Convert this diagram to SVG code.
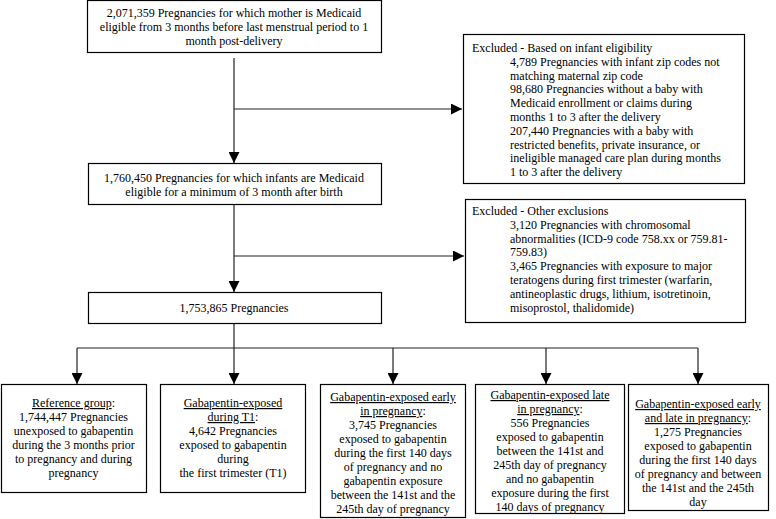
<svg xmlns="http://www.w3.org/2000/svg" width="776" height="519" viewBox="0 0 776 519" font-family="Liberation Serif, Tinos, DejaVu Serif, Times New Roman, serif" font-size="12">
<defs>
<style>
.box{fill:#fff;stroke:#000;stroke-width:1.2}
text{fill:#000}
.c{text-anchor:middle}
.u{text-decoration:underline}
.ln{stroke:#222;stroke-width:1.2;fill:none}
</style>
<marker id="ah" markerUnits="userSpaceOnUse" markerWidth="11" markerHeight="11" refX="11" refY="5.5" orient="auto" viewBox="0 0 11 11">
<path d="M0,0 L11,5.5 L0,11 z" fill="#000"/>
</marker>
</defs>
<rect width="776" height="519" fill="#fff"/>

<g id="connectors">
<line class="ln" x1="234" y1="58" x2="234" y2="163" marker-end="url(#ah)"/>
<line class="ln" x1="234" y1="109" x2="462" y2="109" marker-end="url(#ah)"/>
<line class="ln" x1="234" y1="204" x2="234" y2="292" marker-end="url(#ah)"/>
<line class="ln" x1="234" y1="256" x2="464" y2="256" marker-end="url(#ah)"/>
<line class="ln" x1="234" y1="323" x2="234" y2="348"/>
<line class="ln" x1="77" y1="348" x2="698" y2="348"/>
<line class="ln" x1="77" y1="348" x2="77" y2="384" marker-end="url(#ah)"/>
<line class="ln" x1="234" y1="348" x2="234" y2="384" marker-end="url(#ah)"/>
<line class="ln" x1="393" y1="348" x2="393" y2="384" marker-end="url(#ah)"/>
<line class="ln" x1="546" y1="348" x2="546" y2="384" marker-end="url(#ah)"/>
<line class="ln" x1="698" y1="348" x2="698" y2="384" marker-end="url(#ah)"/>
</g>

<g id="n1">
<rect class="box" x="87.5" y="0.5" width="294" height="52"/>
<text class="c" x="234" y="17">2,071,359 Pregnancies for which mother is Medicaid</text>
<text class="c" x="234" y="31">eligible from 3 months before last menstrual period to 1</text>
<text class="c" x="234" y="45">month post-delivery</text>
</g>

<g id="n2">
<rect class="box" x="88.5" y="163.5" width="293" height="41"/>
<text class="c" x="234" y="182">1,760,450 Pregnancies for which infants are Medicaid</text>
<text class="c" x="234" y="196">eligible for a minimum of 3 month after birth</text>
</g>

<g id="n3">
<rect class="box" x="88.5" y="292.5" width="293" height="31"/>
<text class="c" x="234" y="312">1,753,865 Pregnancies</text>
</g>

<g id="ex1">
<rect class="box" x="463.5" y="34.5" width="281" height="149"/>
<text x="472" y="52">Excluded - Based on infant eligibility</text>
<text x="510" y="65.8">4,789 Pregnancies with infant zip codes not</text>
<text x="510" y="79.6">matching maternal zip code</text>
<text x="510" y="93.4">98,680 Pregnancies without a baby with</text>
<text x="510" y="107.2">Medicaid enrollment or claims during</text>
<text x="510" y="121">months 1 to 3 after the delivery</text>
<text x="510" y="134.8">207,440 Pregnancies with a baby with</text>
<text x="510" y="148.6">restricted benefits, private insurance, or</text>
<text x="510" y="162.4">ineligible managed care plan during months</text>
<text x="510" y="176.2">1 to 3 after the delivery</text>
</g>

<g id="ex2">
<rect class="box" x="465.5" y="199.5" width="280" height="123"/>
<text x="472" y="215">Excluded - Other exclusions</text>
<text x="510" y="228.8">3,120 Pregnancies with chromosomal</text>
<text x="510" y="242.6">abnormalities (ICD-9 code 758.xx or 759.81-</text>
<text x="510" y="256.4">759.83)</text>
<text x="510" y="270.2">3,465 Pregnancies with exposure to major</text>
<text x="510" y="284">teratogens during first trimester (warfarin,</text>
<text x="510" y="297.8">antineoplastic drugs, lithium, isotretinoin,</text>
<text x="510" y="311.6">misoprostol, thalidomide)</text>
</g>

<g id="gA">
<rect class="box" x="1.5" y="384.5" width="145" height="108"/>
<text class="c" x="73.5" y="407"><tspan class="u">Reference group</tspan>:</text>
<text class="c" x="73.5" y="421">1,744,447 Pregnancies</text>
<text class="c" x="73.5" y="435">unexposed to gabapentin</text>
<text class="c" x="73.5" y="449">during the 3 months prior</text>
<text class="c" x="73.5" y="463">to pregnancy and during</text>
<text class="c" x="73.5" y="477">pregnancy</text>
</g>

<g id="gB">
<rect class="box" x="160.5" y="384.5" width="145" height="108"/>
<text class="c" x="233" y="407"><tspan class="u">Gabapentin-exposed</tspan></text>
<text class="c" x="233" y="421"><tspan class="u">during T1</tspan>:</text>
<text class="c" x="233" y="435">4,642 Pregnancies</text>
<text class="c" x="233" y="449">exposed to gabapentin</text>
<text class="c" x="233" y="463">during</text>
<text class="c" x="233" y="477">the first trimester (T1)</text>
</g>

<g id="gC">
<rect class="box" x="320.5" y="384.5" width="145" height="133"/>
<text class="c" x="393" y="401"><tspan class="u">Gabapentin-exposed early</tspan></text>
<text class="c" x="393" y="415"><tspan class="u">in pregnancy</tspan>:</text>
<text class="c" x="393" y="429">3,745 Pregnancies</text>
<text class="c" x="393" y="443">exposed to gabapentin</text>
<text class="c" x="393" y="457">during the first 140 days</text>
<text class="c" x="393" y="471">of pregnancy and no</text>
<text class="c" x="393" y="485">gabapentin exposure</text>
<text class="c" x="393" y="499">between the 141st and the</text>
<text class="c" x="393" y="513">245th day of pregnancy</text>
</g>

<g id="gD">
<rect class="box" x="475.5" y="384.5" width="149" height="129"/>
<text class="c" x="550" y="399"><tspan class="u">Gabapentin-exposed late</tspan></text>
<text class="c" x="550" y="413"><tspan class="u">in pregnancy</tspan>:</text>
<text class="c" x="550" y="427">556 Pregnancies</text>
<text class="c" x="550" y="441">exposed to gabapentin</text>
<text class="c" x="550" y="455">between the 141st and</text>
<text class="c" x="550" y="469">245th day of pregnancy</text>
<text class="c" x="550" y="483">and no gabapentin</text>
<text class="c" x="550" y="497">exposure during the first</text>
<text class="c" x="550" y="511">140 days of pregnancy</text>
</g>

<g id="gE">
<rect class="box" x="628.5" y="384.5" width="140" height="126"/>
<text class="c" x="698" y="408"><tspan class="u">Gabapentin-exposed early</tspan></text>
<text class="c" x="698" y="422"><tspan class="u">and late in pregnancy</tspan>:</text>
<text class="c" x="698" y="436">1,275 Pregnancies</text>
<text class="c" x="698" y="450">exposed to gabapentin</text>
<text class="c" x="698" y="464">during the first 140 days</text>
<text class="c" x="698" y="478">of pregnancy and between</text>
<text class="c" x="698" y="492">the 141st and the 245th</text>
<text class="c" x="698" y="506">day</text>
</g>
</svg>
